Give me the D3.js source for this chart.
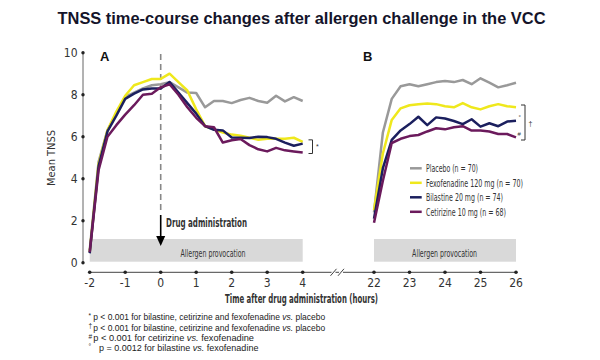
<!DOCTYPE html>
<html><head><meta charset="utf-8">
<script src="https://cdn.jsdelivr.net/npm/d3@7/dist/d3.min.js"></script>
<style>
html,body{margin:0;padding:0;background:#fff;}
svg{display:block;}
</style></head>
<body>
<svg id="chart" width="600" height="360"></svg>
<script>
// ---------- DATA ----------
const timesA = [-2, -1.75, -1.5, -1.25, -1, -0.75, -0.5, -0.25, 0, 0.25, 0.5, 0.75, 1, 1.25, 1.5, 1.75, 2, 2.25, 2.5, 2.75, 3, 3.25, 3.5, 3.75, 4];
const placeboA = [0.6, 4.8, 6.3, 7.1, 7.9, 8.1, 8.3, 8.45, 8.5, 8.6, 8.35, 8.1, 8.08, 7.4, 7.7, 7.7, 7.6, 7.75, 7.85, 7.7, 7.62, 7.95, 7.68, 7.88, 7.7];
const fexoA    = [0.5, 4.7, 6.3, 7.2, 7.95, 8.45, 8.6, 8.75, 8.75, 9.0, 8.6, 8.2, 7.3, 6.5, 6.35, 6.2, 6.1, 6.05, 5.95, 5.85, 5.9, 5.9, 5.9, 5.95, 5.75];
const bilaA    = [0.45, 4.6, 6.25, 7.0, 7.8, 8.05, 8.25, 8.3, 8.3, 8.6, 8.1, 7.6, 7.1, 6.5, 6.33, 6.3, 5.96, 5.95, 5.94, 6.0, 5.98, 5.9, 5.72, 5.57, 5.67];
const cetiA    = [0.5, 4.4, 6.0, 6.55, 7.05, 7.5, 8.0, 8.05, 8.35, 8.5, 8.0, 7.4, 6.9, 6.5, 6.45, 5.72, 5.83, 5.89, 5.6, 5.4, 5.3, 5.47, 5.35, 5.3, 5.25];

const timesB = [22, 22.25, 22.5, 22.75, 23, 23.25, 23.5, 23.75, 24, 24.25, 24.5, 24.75, 25, 25.25, 25.5, 25.75, 26];
const placeboB = [2.4, 6.2, 7.8, 8.4, 8.5, 8.4, 8.5, 8.6, 8.65, 8.6, 8.7, 8.5, 8.78, 8.57, 8.35, 8.45, 8.57];
const fexoB    = [2.5, 5.2, 6.8, 7.35, 7.5, 7.55, 7.58, 7.55, 7.45, 7.4, 7.6, 7.4, 7.3, 7.45, 7.55, 7.45, 7.4];
const bilaB    = [2.1, 4.5, 5.85, 6.3, 6.6, 6.95, 6.55, 6.92, 6.87, 6.75, 6.6, 6.83, 6.48, 6.64, 6.5, 6.72, 6.76];
const cetiB    = [1.9, 3.9, 5.7, 5.9, 6.03, 6.08, 6.25, 6.4, 6.35, 6.45, 6.5, 6.29, 6.29, 6.25, 6.13, 6.13, 5.97];

const seriesNames = ["Placebo (n = 70)", "Fexofenadine 120 mg (n = 70)", "Bilastine 20 mg (n = 74)", "Cetirizine 10 mg (n = 68)"];
const seriesColors = ["#999999", "#efe81c", "#1b1f5e", "#6b1a5c"];
const yTicks = [0, 2, 4, 6, 8, 10];
const xTicksA = [-2, -1, 0, 1, 2, 3, 4];
const xTicksB = [22, 23, 24, 25, 26];

const title = "TNSS time-course changes after allergen challenge in the VCC";
const xLabel = "Time after drug administration (hours)";
const yLabel = "Mean TNSS";
const footnotes = [
  {sym: "*", text: "p < 0.001 for bilastine, cetirizine and fexofenadine ", it: "vs.", rest: " placebo"},
  {sym: "†", text: "p < 0.001 for bilastine, cetirizine and fexofenadine ", it: "vs.", rest: " placebo"},
  {sym: "#", text: "p < 0.001 for cetirizine ", it: "vs.", rest: " fexofenadine"},
  {sym: "°", text: " p =  0.0012 for bilastine ", it: "vs.", rest: " fexofenadine"}
];

// ---------- CHART ----------
const svg = d3.select("#chart");
const NARROW = "'Liberation Sans Narrow','Arial Narrow','DejaVu Sans Condensed',sans-serif";
const SANS = "'Liberation Sans',Arial,sans-serif";

const xA = d3.scaleLinear().domain([-2, 4]).range([89.7, 302.7]);
const xB = d3.scaleLinear().domain([22, 26]).range([374, 516]);
const y = d3.scaleLinear().domain([0, 10]).range([262.7, 52.7]);

function fit(sel, w) {
  sel.attr("textLength", w).attr("lengthAdjust", "spacingAndGlyphs");
}
function fitSize(sel, w) {
  const n = sel.node();
  const fs = parseFloat(sel.style("font-size"));
  const len = n.getComputedTextLength();
  if (len > 0) sel.style("font-size", (fs * w / len).toFixed(2) + "px");
}

// title
svg.append("text").attr("x", 301.5).attr("y", 23.5).attr("text-anchor", "middle")
  .style("font-family", SANS).style("font-weight", "bold").style("font-size", "16.5px")
  .attr("fill", "#14142a").text(title).call(fit, 488);

// allergen boxes
[[xA, -2, 4, 213], [xB, 22, 26, 444.6]].forEach(([sc, a, b, tx]) => {
  svg.append("rect").attr("x", sc(a)).attr("y", 239).attr("width", sc(b) - sc(a)).attr("height", 22.7)
    .attr("fill", "#d9d9d9");
  svg.append("text").attr("x", tx).attr("y", 257).attr("text-anchor", "middle")
    .style("font-family", NARROW).style("font-size", "11px").attr("fill", "#333")
    .text("Allergen provocation").call(fit, 65);
});

// y axis
svg.append("line").attr("x1", 83).attr("x2", 83).attr("y1", y(10)).attr("y2", y(0))
  .attr("stroke", "#666").attr("stroke-width", 1);
yTicks.forEach(t => {
  svg.append("circle").attr("cx", 83).attr("cy", y(t)).attr("r", 1.7).attr("fill", "#222");
  svg.append("text").attr("x", 77.5).attr("y", y(t) + 4).attr("text-anchor", "end")
    .style("font-family", NARROW).style("font-size", "12px").attr("fill", "#333").text(t);
});
svg.append("text").attr("transform", "translate(55,158) rotate(-90)").attr("text-anchor", "middle")
  .style("font-family", NARROW).style("font-size", "11px").attr("fill", "#333").text(yLabel);

// x axis
const axisY = 272.3;
svg.append("line").attr("x1", xA(-2)).attr("x2", xB(26)).attr("y1", axisY).attr("y2", axisY)
  .attr("stroke", "#444").attr("stroke-width", 1);
[[xA, xTicksA], [xB, xTicksB]].forEach(([sc, ticks]) => {
  ticks.forEach(t => {
    svg.append("circle").attr("cx", sc(t)).attr("cy", axisY).attr("r", 1.8).attr("fill", "#222");
    svg.append("text").attr("x", sc(t)).attr("y", axisY + 15).attr("text-anchor", "middle")
      .style("font-family", NARROW).style("font-size", "12px").attr("fill", "#333").text(t);
  });
});
// break marks
[333.5, 341].forEach(bx => {
  svg.append("rect").attr("x", bx - 2).attr("y", axisY - 1).attr("width", 4).attr("height", 2).attr("fill", "#fff");
  svg.append("line").attr("x1", bx - 3).attr("y1", axisY + 3.5).attr("x2", bx + 3).attr("y2", axisY - 3.5)
    .attr("stroke", "#444").attr("stroke-width", 1);
});
svg.append("text").attr("x", 301.5).attr("y", 303).attr("text-anchor", "middle")
  .style("font-family", NARROW).style("font-weight", "bold").style("font-size", "12px")
  .attr("fill", "#333").text(xLabel).call(fit, 153);

// panel labels
svg.append("text").attr("x", 100).attr("y", 61).style("font-family", SANS).style("font-weight", "bold")
  .style("font-size", "13px").attr("fill", "#111").text("A");
svg.append("text").attr("x", 363).attr("y", 61).style("font-family", SANS).style("font-weight", "bold")
  .style("font-size", "13px").attr("fill", "#111").text("B");

// dashed drug line and arrow
svg.append("line").attr("x1", xA(0)).attr("x2", xA(0)).attr("y1", 54).attr("y2", 211)
  .attr("stroke", "#888").attr("stroke-width", 1.6).attr("stroke-dasharray", "6,4");
svg.append("line").attr("x1", xA(0)).attr("x2", xA(0)).attr("y1", 215).attr("y2", 238)
  .attr("stroke", "#000").attr("stroke-width", 1.6);
svg.append("path").attr("d", `M${xA(0) - 4.5},${236} L${xA(0) + 4.5},${236} L${xA(0)},${246} Z`).attr("fill", "#000");
svg.append("text").attr("x", 166).attr("y", 226.5)
  .style("font-family", NARROW).style("font-weight", "bold").style("font-size", "11.5px")
  .attr("fill", "#333").text("Drug administration").call(fit, 81);

// lines
const dataA = [placeboA, fexoA, bilaA, cetiA];
const dataB = [placeboB, fexoB, bilaB, cetiB];
[[xA, timesA, dataA], [xB, timesB, dataB]].forEach(([sc, times, data]) => {
  const line = d3.line().x((d, i) => sc(times[i])).y(d => y(d));
  data.forEach((vals, k) => {
    svg.append("path").datum(vals).attr("d", line).attr("fill", "none")
      .attr("stroke", seriesColors[k]).attr("stroke-width", 2.5).attr("stroke-linejoin", "round");
  });
});

// brackets
function bracket(x, y1, y2, w) {
  svg.append("path").attr("d", `M${x - w},${y1} H${x} V${y2} H${x - w}`).attr("fill", "none")
    .attr("stroke", "#333").attr("stroke-width", 1);
}
bracket(312.5, y(5.85), y(5.2), 4);
svg.append("text").attr("x", 316).attr("y", 149).style("font-family", SANS).style("font-size", "7px")
  .attr("fill", "#333").text("*");
bracket(525, 105, 140, 4);
svg.append("text").attr("x", 528.5).attr("y", 126).style("font-family", SANS).style("font-size", "7px")
  .attr("fill", "#333").text("†");
svg.append("text").attr("x", 518.5).attr("y", 119).style("font-family", SANS).style("font-size", "6px")
  .attr("fill", "#333").text("°");
svg.append("text").attr("x", 517.5).attr("y", 135.5).style("font-family", SANS).style("font-size", "6px")
  .attr("fill", "#333").text("#");

// legend
const legW = [52, 97, 77, 80];
seriesNames.forEach((nm, i) => {
  const ly = 168.3 + i * 14.5;
  svg.append("line").attr("x1", 410).attr("x2", 421.7).attr("y1", ly).attr("y2", ly)
    .attr("stroke", seriesColors[i]).attr("stroke-width", 2.5);
  svg.append("text").attr("x", 426).attr("y", ly + 3.8)
    .style("font-family", NARROW).style("font-size", "11px").attr("fill", "#333")
    .text(nm).call(fit, legW[i]);
});

// footnotes
const fnY = [316.7, 327.3, 337.7, 347.7];
const fnW = [232, 232, 160.7, 159.5];
footnotes.forEach((f, i) => {
  svg.append("text").attr("x", 88.5).attr("y", fnY[i] + 1).style("font-family", SANS).style("font-size", "6.5px")
    .attr("fill", "#222").text(f.sym);
  const t = svg.append("text").attr("x", i === 3 ? 99 : 93.3).attr("y", fnY[i] + 3.2)
    .style("font-family", SANS).style("font-size", "9px").attr("fill", "#222");
  t.append("tspan").text(f.text);
  t.append("tspan").style("font-style", "italic").text(f.it);
  t.append("tspan").text(f.rest);
  t.call(fitSize, fnW[i]);
});
</script>
</body></html>
